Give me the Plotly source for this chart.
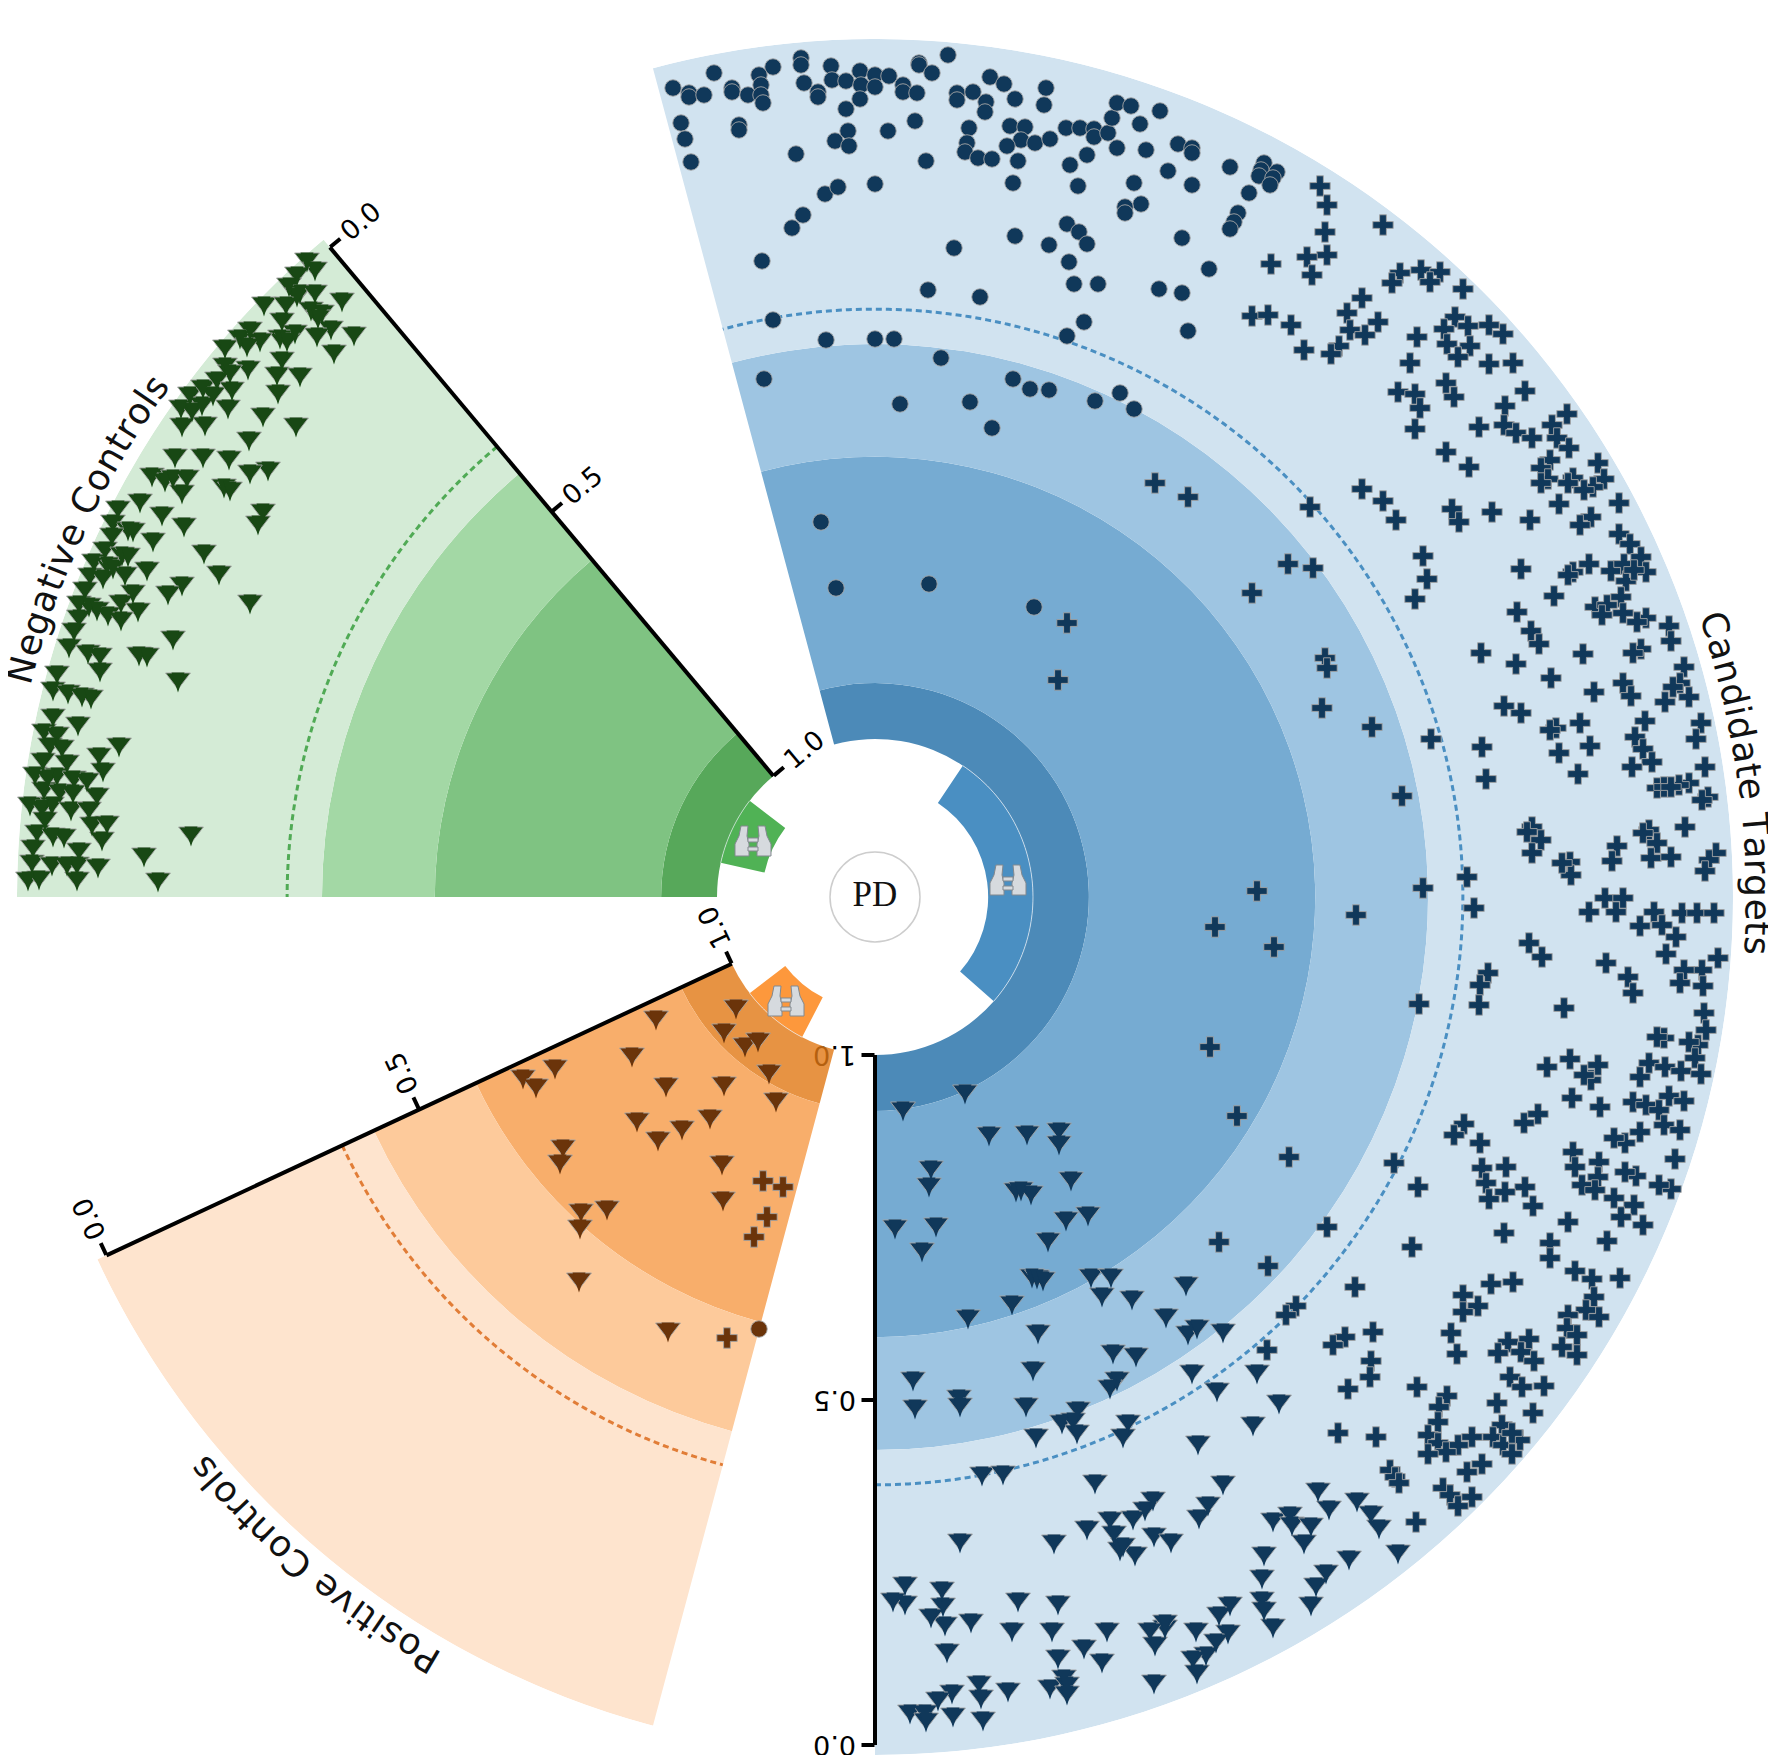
import math
import numpy as np
import plotly.graph_objects as go

# ---- sectors: score bands, cut-off and angular extents (degrees) ----
sector_names = ["Candidate Targets", "Negative Controls", "Positive Controls"]
sector_from = [-90, 130, 205]
sector_to = [105, 180, 255]
band_edges = [1.0, 0.919, 0.591, 0.4275, -0.0145]
cutoff = 0.377
wedge_outer = 1.0
wedge_inner = 1.065
tick_values = [0.0, 0.5, 1.0]
tick_labels = ["0.0", "0.5", "1.0"]
centre_label = "PD"

blue_bands = ["rgb(76,138,184)", "rgb(118,171,210)", "rgb(158,197,226)", "rgb(209,227,240)"]
green_bands = ["rgb(87,168,90)", "rgb(127,195,130)", "rgb(163,216,165)", "rgb(212,235,214)"]
orange_bands = ["rgba(225,120,20,.8)", "rgb(248,174,107)", "rgb(253,202,155)", "rgb(254,228,206)"]
wedge_colors = ["rgb(74,143,194)", "rgb(80,178,85)", "rgb(253,152,60)"]
cut_colors = ["rgb(74,143,194)", "rgb(80,170,85)", "rgb(225,125,55)"]
mark_colors = ["rgb(16,56,90)", "rgb(24,72,20)", "rgb(107,52,10)"]

# ---- values, as positions in the chart plane ----
target_circle_x = [673,689,689,704,714,732,732,748,773,759,761,761,763,801,801,804,818,818,831,832,846,860,861,860,875,875,889,903,903,917,919,919,932,948,846,681,685,691,739,739,848,835,849,888,915,796,926,825,838,875,803,792,762,954,957,957,973,990,1004,986,985,1015,1046,1044,969,967,965,978,992,1010,1025,1021,1007,1035,1050,1018,1013,1066,1080,1094,1094,1108,1112,1117,1131,1140,1160,1117,1146,1087,1070,1078,1178,1192,1192,1168,1192,1134,1141,1125,1125,1067,1079,1087,1069,1074,1098,1049,1015,1182,1159,1182,928,980,1084,1067,773,1188,826,875,894,941,764,1013,1030,1049,1095,1120,1134,900,970,992,821,836,929,1034,1264,1261,1259,1277,1273,1270,1249,1238,1234,1230,1230,1209]
target_circle_y = [88,93,97,95,73,88,92,95,67,75,85,95,103,58,65,83,92,97,66,80,81,71,85,99,75,87,76,85,92,93,63,65,73,55,109,123,139,162,125,130,131,141,146,131,121,154,161,194,187,184,215,228,261,248,93,100,92,77,84,102,112,99,88,105,128,143,152,158,159,126,127,140,146,143,139,161,183,128,128,129,137,133,118,103,106,124,111,148,150,155,165,186,144,148,153,171,185,183,204,207,213,224,232,244,262,284,284,245,236,238,289,293,290,297,322,336,320,331,340,339,339,358,379,379,389,390,401,393,409,404,402,428,522,588,584,607,163,170,176,172,178,185,193,213,222,229,167,269]

target_triangle_x = [965,903,989,1027,1059,1059,931,929,1071,1016,1021,1031,895,936,922,1066,1088,1048,1032,1037,1043,1091,1111,1102,1132,1186,1012,968,1038,1166,1188,1197,1223,1113,1136,1033,1192,1117,1110,1217,913,959,960,915,1026,1078,1257,1062,1073,1077,1036,1128,1123,1253,1198,982,1003,1095,1223,1153,1145,1133,1110,1087,1114,1154,1171,960,1054,1120,1135,1123,1208,1199,1318,1329,1357,1273,1290,1292,1311,1304,1264,1262,1349,1326,1316,1311,1262,1264,1273,1230,1219,1228,1216,1206,1193,1197,1196,1154,1155,1165,1165,1150,1107,1084,1102,1058,1052,1058,1018,1012,971,945,943,942,931,905,905,893,947,979,981,1008,952,938,953,983,910,925,926,1064,1050,1067,1067,1279,1371,1379,1398]
target_triangle_y = [1095,1112,1137,1136,1133,1146,1171,1188,1182,1193,1192,1196,1230,1228,1253,1222,1217,1243,1279,1280,1282,1279,1279,1298,1301,1287,1306,1320,1335,1319,1336,1330,1334,1355,1358,1372,1375,1382,1390,1393,1382,1400,1408,1410,1408,1412,1375,1425,1423,1435,1439,1425,1439,1427,1446,1477,1476,1485,1486,1502,1512,1521,1522,1531,1536,1538,1544,1544,1545,1552,1557,1548,1507,1520,1493,1511,1503,1523,1517,1527,1528,1545,1557,1580,1561,1575,1588,1607,1602,1612,1629,1607,1617,1635,1644,1657,1661,1675,1633,1685,1647,1630,1625,1633,1633,1650,1664,1660,1633,1606,1603,1633,1624,1627,1608,1592,1619,1587,1606,1603,1654,1686,1700,1693,1695,1702,1718,1722,1715,1715,1723,1680,1690,1687,1696,1405,1516,1530,1555]

target_plus_x = [1320,1327,1325,1327,1307,1271,1312,1383,1400,1392,1421,1440,1430,1463,1362,1252,1268,1291,1347,1378,1350,1365,1339,1331,1304,1455,1444,1468,1489,1503,1417,1447,1470,1458,1410,1489,1513,1446,1398,1415,1454,1525,1420,1505,1415,1479,1504,1516,1532,1552,1567,1557,1569,1446,1469,1550,1541,1548,1541,1573,1568,1598,1604,1593,1584,1362,1383,1396,1310,1452,1459,1492,1530,1559,1591,1580,1619,1619,1630,
1423,1427,1415,1288,1313,1252,1521,1573,1568,1589,1611,1624,1641,1646,1626,1634,1554,1517,1595,1621,1607,1602,1623,1646,1637,1669,1671,1531,1539,1481,1516,1583,1641,1633,1684,1551,1594,1623,1631,1680,1673,1689,1665,1325,1327,1322,1504,1521,1372,1431,1556,1550,1580,1645,1635,1701,1696,1482,1559,1590,1643,1652,1632,1705,1486,1578,1402,1689,1679,1657,1664,1671,1708,1702,1532,1541,1532,1527,1649,1643,1657,1685,1617,1612,1651,1671,1716,1709,1705,1570,1571,1562,1257,1467,1423,1356,1474,1215,1605,1623,1589,1616,1654,1682,1697,1714,1640,1662,1676,
1274,1529,1542,1488,1480,1479,1606,1628,1633,1666,1718,1702,1684,1680,1703,1419,1564,1704,1706,1664,1657,1698,1689,1695,1210,1547,1570,1598,1591,1584,1649,1665,1681,1701,1640,1572,1600,1633,1646,1659,1669,1684,1538,1524,1664,1680,1640,1625,1614,1237,1464,1454,1480,1573,1675,1599,1394,1289,1482,1506,1575,1598,1636,1625,1486,1418,1525,1505,1489,1582,1595,1671,1659,1614,1533,1634,1621,1643,1568,1327,1504,1219,1550,1607,1412,1550,1268,1575,1592,1620,1491,1513,1355,1463,1594,1478,1463,1586,1599,1568,1296,1286,
1267,1345,1333,1373,1371,1370,1348,1451,1457,1417,1567,1577,1562,1577,1508,1529,1498,1521,1534,1510,1522,1544,1447,1439,1438,1497,1533,1502,1428,1472,1493,1520,1458,1503,1438,1512,1512,1446,1428,1482,1467,1338,1376,1390,1395,1399,1443,1450,1458,1472,1416,1155,1188,1067,1058]
target_plus_y = [186,205,232,255,257,264,275,225,273,283,270,272,282,289,298,316,315,325,313,322,330,335,346,354,350,317,329,326,325,334,337,344,346,357,363,364,363,383,392,394,397,391,408,406,429,427,425,433,438,425,414,438,448,452,467,460,468,479,483,478,483,463,479,487,490,489,501,520,507,509,522,512,520,504,517,525,503,534,544,
556,579,599,564,568,593,569,572,575,564,571,564,557,572,581,570,596,612,607,597,605,615,613,618,622,626,641,631,644,653,664,654,649,653,667,678,692,683,696,683,687,697,702,658,668,708,706,713,727,739,728,730,723,721,737,723,739,747,753,746,749,762,767,767,779,774,796,783,785,788,787,787,797,800,827,840,853,832,830,833,843,827,846,861,858,857,853,860,871,862,875,863,891,877,888,915,908,927,898,898,912,912,912,913,913,913,926,925,937,
947,943,957,973,985,1005,963,977,993,954,958,970,970,983,986,1004,1008,1013,1030,1038,1037,1045,1042,1058,1047,1067,1059,1065,1080,1075,1063,1067,1071,1074,1077,1098,1107,1102,1105,1110,1096,1101,1114,1123,1125,1130,1132,1143,1138,1116,1124,1135,1143,1152,1159,1162,1163,1157,1168,1167,1167,1177,1176,1172,1183,1187,1187,1192,1199,1185,1190,1189,1185,1198,1206,1205,1217,1225,1222,1227,1233,1242,1243,1241,1247,1258,1266,1271,1279,1278,1284,1282,1287,1295,1297,1306,1312,1310,1317,1315,1306,1315,
1350,1337,1345,1332,1361,1377,1389,1333,1354,1387,1328,1335,1347,1355,1342,1339,1353,1352,1361,1377,1387,1386,1396,1407,1422,1403,1413,1425,1435,1437,1437,1440,1445,1445,1443,1433,1454,1452,1454,1464,1472,1433,1437,1470,1477,1483,1488,1495,1506,1497,1522,483,497,623,680]

negative_triangle_x = [307,315,297,289,300,297,315,342,264,286,311,322,318,282,331,354,295,317,280,287,250,240,260,247,225,334,282,277,300,225,248,230,278,190,203,217,213,232,181,202,192,228,182,205,263,296,249,175,203,229,268,250,152,165,173,187,182,224,230,140,118,162,263,258,113,184,128,133,112,153,
204,105,122,128,94,147,219,107,113,90,125,103,182,168,85,133,250,79,89,121,138,97,108,121,79,74,173,69,88,100,139,147,100,57,178,53,68,82,91,53,78,44,57,50,62,119,99,43,67,103,35,57,48,74,87,44,60,73,97,30,52,42,71,89,45,92,107,102,37,53,64,191,33,79,144,32,52,67,77,98,28,39,77,158]
negative_triangle_y = [263,272,277,288,295,298,295,303,307,307,312,315,320,323,331,337,335,338,340,343,332,340,343,348,350,355,362,377,378,368,371,375,395,397,390,382,397,392,410,407,413,410,428,427,418,428,442,459,459,461,472,475,478,483,480,480,495,489,492,504,511,517,514,526,525,528,532,533,538,543,
555,552,557,558,564,572,576,567,570,578,577,580,587,596,592,595,605,606,608,605,613,612,617,622,620,633,641,649,655,658,657,658,673,676,683,692,695,698,700,719,727,734,737,748,750,748,758,763,765,773,777,778,780,781,783,792,794,795,798,807,807,810,812,812,822,827,826,842,835,838,839,837,850,853,858,865,867,867,867,869,882,881,882,883]

positive_triangle_x = [736,724,745,758,769,776,724,666,656,632,555,523,536,637,682,658,710,563,560,722,723,581,607,580,579,668]
positive_triangle_y = [1010,1034,1048,1043,1075,1103,1087,1088,1021,1058,1070,1080,1089,1123,1131,1142,1120,1150,1165,1166,1202,1214,1211,1230,1283,1333]
positive_plus_x = [763,783,767,754,727]
positive_plus_y = [1181,1187,1217,1237,1338]
positive_circle_x = [759]
positive_circle_y = [1329]

# ---- plane geometry of the radial scale ----
PAGE_MARGIN = 8  # the page's own body margin
W, H = 1776 - PAGE_MARGIN, 1755 - PAGE_MARGIN
CX, CY = 875, 897
R_SCORE0, R_SCORE1 = 848, 158
R_PER_SCORE = R_SCORE0 - R_SCORE1
R_OUT = R_SCORE0 - band_edges[-1] * R_PER_SCORE
SCORE_CENTRE = R_SCORE0 / R_PER_SCORE


def to_polar(xs, ys, dy=0.0):
    x = np.asarray(xs, float) - CX
    y = CY - (np.asarray(ys, float) + dy)
    return np.degrees(np.arctan2(y, x)), (R_SCORE0 - np.hypot(x, y)) / R_PER_SCORE


def paper(px, py):
    return (px - PAGE_MARGIN) / W, 1 - (py - PAGE_MARGIN) / H


fig = go.Figure()


def bands(i, colors):
    lo, hi = sector_from[i], sector_to[i]
    mid, wid = (lo + hi) / 2, hi - lo
    for a, b, c in zip(band_edges[:-1], band_edges[1:], colors):
        fig.add_trace(go.Barpolar(r=[b - a], base=[a], theta=[mid], width=[wid], marker=dict(color=c, line=dict(width=0)),
                                  name=sector_names[i], subplot="polar"))
    fig.add_trace(go.Barpolar(r=[wedge_inner - wedge_outer], base=[wedge_outer], theta=[mid], width=[wid / 2],
                              marker=dict(color=wedge_colors[i], line=dict(width=0)), name=sector_names[i], subplot="polar"))
    t = np.linspace(mid - wid / 4, mid + wid / 4, 60)
    fig.add_trace(go.Scatterpolar(r=[wedge_outer] * 60, theta=t, mode="lines", subplot="polar",
                                  line=dict(color="rgba(235,240,245,.7)", width=1), name=sector_names[i]))
    t = np.linspace(lo, hi, 300)
    fig.add_trace(go.Scatterpolar(r=[cutoff] * 300, theta=t, mode="lines", subplot="polar",
                                  line=dict(color=cut_colors[i], width=3, dash="6px,4px"), name=sector_names[i]))


bands(0, blue_bands)
bands(1, green_bands)
bands(2, orange_bands)

STROKE = dict(color="rgba(165,165,165,.9)", width=1)
TRI_SIZE = 21.5
TIP_SIZE = 21
PLUS_SIZE = 17
DOT_SIZE = 16.5


def marks(xs, ys, symbol, size, color, name, dy=0.0):
    th, sc = to_polar(xs, ys, dy)
    fig.add_trace(go.Scatterpolar(r=sc, theta=th, mode="markers", subplot="polar", name=name, cliponaxis=False,
                                  marker=dict(symbol=symbol, size=size, color=color, line=STROKE)))


def triangles(xs, ys, color, name):
    # plotly's triangle-down is flatter than the reference's mark: a narrow arrow deepens its tip
    marks(xs, ys, "triangle-down", TRI_SIZE, color, name, -10 + TRI_SIZE / 4)
    th, sc = to_polar(xs, ys, 9.5)
    fig.add_trace(go.Scatterpolar(r=sc, theta=th, mode="markers", subplot="polar", name=name, cliponaxis=False,
                                  marker=dict(symbol="arrow", angle=180, size=TIP_SIZE, color=color, line=dict(width=0))))


marks(target_circle_x, target_circle_y, "circle", DOT_SIZE, mark_colors[0], sector_names[0])
marks(target_plus_x, target_plus_y, "cross", PLUS_SIZE, mark_colors[0], sector_names[0])
triangles(target_triangle_x, target_triangle_y, mark_colors[0], sector_names[0])
triangles(negative_triangle_x, negative_triangle_y, mark_colors[1], sector_names[1])
triangles(positive_triangle_x, positive_triangle_y, mark_colors[2], sector_names[2])
marks(positive_plus_x, positive_plus_y, "cross", PLUS_SIZE, mark_colors[2], sector_names[2])
marks(positive_circle_x, positive_circle_y, "circle", DOT_SIZE, mark_colors[2], sector_names[2])

# centre label
fig.add_trace(go.Scatterpolar(r=[SCORE_CENTRE], theta=[0], mode="markers+text", subplot="polar", text=[centre_label],
                              textposition="middle center", cliponaxis=False,
                              textfont=dict(family="Liberation Serif", size=35, color="#111111"),
                              marker=dict(size=90, color="white", line=dict(color="rgb(205,205,205)", width=1.5))))

# score axes: one radial axis per sector
axis_angles = [sector_from[0], sector_to[0] + 25, sector_from[2]]
subplots = ["polar", "polar2", "polar3"]
for ang, sp in zip(axis_angles, subplots):
    fig.add_trace(go.Scatterpolar(r=[tick_values[0], tick_values[-1]], theta=[ang, ang], mode="lines", subplot=sp,
                                  cliponaxis=False, line=dict(color="black", width=4)))


def polar_layout(angle, layer):
    x0, y1 = paper(CX - R_OUT, CY - R_OUT)
    x1, y0 = paper(CX + R_OUT, CY + R_OUT)
    return dict(
        domain=dict(x=[x0, x1], y=[max(y0, 0), y1]),
        bgcolor="rgba(0,0,0,0)", barmode="overlay",
        angularaxis=dict(visible=False, direction="counterclockwise", rotation=0),
        radialaxis=dict(range=[SCORE_CENTRE, band_edges[-1]], angle=angle, side="clockwise", showgrid=False, showline=False,
                        tickmode="array", tickvals=tick_values, ticktext=tick_labels, ticks="outside", ticklen=13,
                        tickwidth=4, tickcolor="black", layer=layer, tickangle=90,
                        tickfont=dict(family="DejaVu Sans", size=27, color="black")),
    )


# curved sector titles, one glyph at a time along the rim
ADV = {"C": .698, "a": .613, "n": .634, "d": .635, "i": .278, "t": .392, "e": .615, " ": .318, "T": .611, "r": .411, "g": .635,
       "s": .521, "N": .748, "v": .592, "o": .612, "l": .278, "P": .603}
TITLE_SIZE, TITLE_R, TITLE_SPREAD = 36, 883, 1.05
annotations = []
for name, lo, hi in zip(sector_names, sector_from, sector_to):
    mid = (lo + hi) / 2
    total = sum(ADV[c] for c in name) * TITLE_SIZE * TITLE_SPREAD
    pos = -total / 2
    for c in name:
        w = ADV[c] * TITLE_SIZE * TITLE_SPREAD
        ang = mid - math.degrees((pos + w / 2) / TITLE_R)
        pos += w
        if c == " ":
            continue
        a = math.radians(ang)
        px, py = paper(CX + TITLE_R * math.cos(a), CY - TITLE_R * math.sin(a))
        annotations.append(dict(x=px, y=py, xref="paper", yref="paper", text=c, showarrow=False, xanchor="center",
                                yanchor="middle", textangle=90 - ang,
                                font=dict(family="DejaVu Sans", size=TITLE_SIZE, color="#111111")))

# binocular icons at the wedge centres
shapes = []
icon_centres = [(1008, 880), (753, 841), (786, 1001)]
for ix, iy in icon_centres:
    def poly(points):
        s = ""
        for k, (dx, dy) in enumerate(points):
            px, py = paper(ix + dx, iy + dy)
            s += ("M" if k == 0 else "L") + f"{px:.5f},{py:.5f} "
        return s + "Z"
    for sgn in (-1, 1):
        pts = [(sgn * 5, -15), (sgn * 12, -15), (sgn * 14, -5), (sgn * 18, 3), (sgn * 18, 15), (sgn * 4, 15), (sgn * 4, 3), (sgn * 6, -5)]
        shapes.append(dict(type="path", path=poly(pts), xref="paper", yref="paper", fillcolor="rgb(214,218,222)",
                           line=dict(color="rgb(130,137,143)", width=1)))
    shapes.append(dict(type="path", path=poly([(-5, -3), (5, -3), (5, 1), (-5, 1)]), xref="paper", yref="paper",
                       fillcolor="rgb(214,218,222)", line=dict(color="rgb(130,137,143)", width=1)))
    shapes.append(dict(type="path", path=poly([(-5, 6), (5, 6), (5, 10), (-5, 10)]), xref="paper", yref="paper",
                       fillcolor="rgb(214,218,222)", line=dict(color="rgb(130,137,143)", width=1)))

fig.update_layout(
    width=W, height=H, margin=dict(l=0, r=0, t=0, b=0), showlegend=False, paper_bgcolor="white",
    polar=polar_layout(axis_angles[0], "below traces"),
    polar2=polar_layout(axis_angles[1], "above traces"),
    polar3=polar_layout(axis_angles[2], "above traces"),
    annotations=annotations, shapes=shapes,
)
fig.write_html("out.html")
